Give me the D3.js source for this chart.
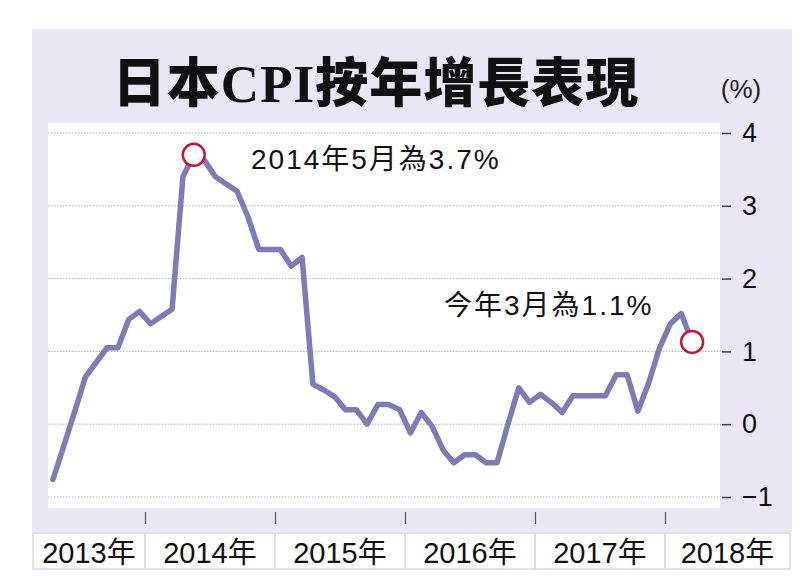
<!DOCTYPE html>
<html>
<head>
<meta charset="utf-8">
<script src="https://cdn.jsdelivr.net/npm/d3@7"></script>
<style>
  html, body { margin: 0; padding: 0; background: #ffffff; }
  svg { display: block; }
  text { font-family: "Liberation Sans", Arial, "Noto Sans CJK TC", sans-serif; }
</style>
</head>
<body>
<svg id="chart" width="800" height="578"></svg>
<script>
// ---- Data ----
const title = "日本CPI按年增長表現";
const unitLabel = "(%)";
const years = ["2013年", "2014年", "2015年", "2016年", "2017年", "2018年"];
const yTicks = [-1, 0, 1, 2, 3, 4];
const firstMonthIndex = 3; // April 2013 (0 = January 2013)
const cpi = [
  -0.76, -0.30, 0.17, 0.65, 0.85, 1.05, 1.05, 1.44, 1.55,        // 2013 Apr-Dec
  1.38, 1.48, 1.58, 3.40, 3.70, 3.62, 3.40, 3.30, 3.20, 2.85, 2.40, 2.40, // 2014
  2.40, 2.17, 2.29, 0.55, 0.47, 0.38, 0.20, 0.20, 0.00, 0.27, 0.27, 0.20, // 2015
  -0.12, 0.16, -0.03, -0.35, -0.53, -0.42, -0.42, -0.53, -0.53, 0.00, 0.50, 0.30, // 2016
  0.41, 0.30, 0.16, 0.39, 0.39, 0.39, 0.39, 0.68, 0.68, 0.18, 0.57, 1.05, // 2017
  1.38, 1.52, 1.13                                                 // 2018 Jan-Mar
];
const annotations = [
  { month: 16, text: "2014年5月為3.7%" },
  { month: 62, text: "今年3月為1.1%" }
];

// ---- Layout ----
const svg = d3.select("#chart");
const panel = { x: 32, y: 29, w: 760, h: 503 };
const plot = { x0: 48, x1: 720, y0: 123, y1: 508 };

const x = d3.scaleLinear().domain([-0.5, 71.5]).range([15, 795]);
const y = d3.scaleLinear().domain([-1, 4]).range([497, 133]);

// background panel
svg.append("rect").attr("x", panel.x).attr("y", panel.y)
  .attr("width", panel.w).attr("height", panel.h).attr("fill", "#e9e7f3");
// plot area
svg.append("rect").attr("x", plot.x0).attr("y", plot.y0)
  .attr("width", plot.x1 - plot.x0).attr("height", plot.y1 - plot.y0).attr("fill", "#ffffff");

// title
const t = svg.append("text").attr("x", 376).attr("y", 102)
  .attr("text-anchor", "middle").attr("font-size", 53).attr("letter-spacing", 1).attr("fill", "#111");
t.append("tspan").style("font-family", '"Noto Sans CJK TC", sans-serif').attr("font-weight", 900).text(title.slice(0, 2));
t.append("tspan").style("font-family", '"Liberation Serif", serif').attr("font-weight", 700).text(title.slice(2, 5));
t.append("tspan").style("font-family", '"Noto Sans CJK TC", sans-serif').attr("font-weight", 900).text(title.slice(5));

svg.append("text").attr("x", 741).attr("y", 98).attr("text-anchor", "middle")
  .attr("font-size", 26).attr("fill", "#222").text(unitLabel);

// gridlines
svg.append("g").selectAll("line").data(yTicks).join("line")
  .attr("x1", plot.x0).attr("x2", plot.x1)
  .attr("y1", d => y(d)).attr("y2", d => y(d))
  .attr("stroke", "#b0b0b0").attr("stroke-width", 1).attr("stroke-dasharray", "1.5,1.5");

// y axis on right
const yAxis = svg.append("g").attr("transform", `translate(${plot.x1 + 2},0)`)
  .call(d3.axisRight(y).tickValues(yTicks).tickSize(9).tickPadding(11).tickFormat(d3.format("d")));
yAxis.select(".domain").remove();
yAxis.selectAll(".tick line").attr("stroke", "#444").attr("stroke-width", 1.5);
yAxis.selectAll(".tick text").attr("font-size", 27).attr("fill", "#111")
  .style("font-family", '"Liberation Sans", Arial, sans-serif');

// x axis ticks (year boundaries)
const boundaries = years.slice(1).map((d, i) => 11.5 + 12 * i);
const xAxis = svg.append("g").attr("transform", `translate(0,512)`)
  .call(d3.axisBottom(x).tickValues(boundaries).tickSize(12).tickFormat(""));
xAxis.select(".domain").remove();
xAxis.selectAll(".tick line").attr("stroke", "#555").attr("stroke-width", 1.2);

// label row
svg.append("rect").attr("x", 33).attr("y", 533).attr("width", 757).attr("height", 36)
  .attr("fill", "#ffffff").attr("stroke", "#d8d8df").attr("stroke-width", 1.5);
svg.append("g").selectAll("line").data(boundaries).join("line")
  .attr("x1", d => x(d)).attr("x2", d => x(d)).attr("y1", 533).attr("y2", 569)
  .attr("stroke", "#dcdce4").attr("stroke-width", 2);
const cellEdges = [33, ...boundaries.map(d => x(d)), 790];
svg.append("g").selectAll("text").data(years).join("text")
  .attr("x", (d, i) => (cellEdges[i] + cellEdges[i + 1]) / 2)
  .attr("y", 563).attr("text-anchor", "middle").attr("font-size", 29).attr("fill", "#111")
  .text(d => d);

// line
const pts = cpi.map((v, i) => ({ m: firstMonthIndex + i, v }));
svg.append("path").datum(pts)
  .attr("fill", "none").attr("stroke", "#7f7ab8").attr("stroke-width", 5.5)
  .attr("stroke-linejoin", "round").attr("stroke-linecap", "round")
  .attr("d", d3.line().x(d => x(d.m)).y(d => y(d.v)));

// highlight circles
const hl = annotations.map(a => pts.find(p => p.m === a.month));
svg.append("g").selectAll("circle").data(hl).join("circle")
  .attr("cx", d => x(d.m)).attr("cy", d => y(d.v)).attr("r", 11)
  .attr("fill", "#ffffff").attr("stroke", "#c8143c").attr("stroke-width", 2.5);

// annotation texts
svg.append("text").attr("x", 251).attr("y", 169).attr("font-size", 28)
  .attr("letter-spacing", 2).attr("fill", "#111").text(annotations[0].text);
svg.append("text").attr("x", 444).attr("y", 315).attr("font-size", 28)
  .attr("letter-spacing", 2).attr("fill", "#111").text(annotations[1].text);
</script>
</body>
</html>
